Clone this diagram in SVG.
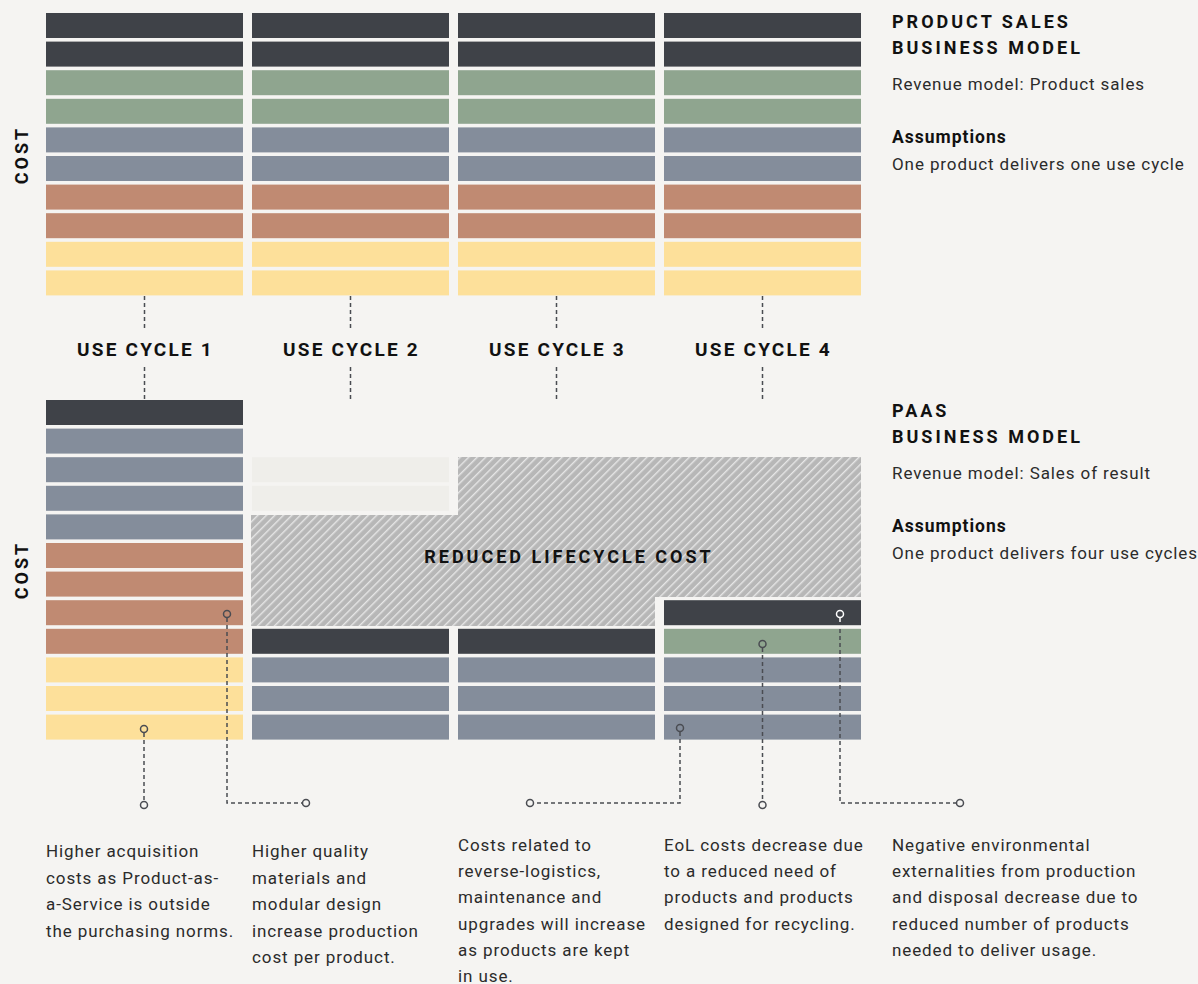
<svg xmlns="http://www.w3.org/2000/svg" width="1198" height="984" viewBox="0 0 1198 984">
<style>
.bg{fill:#f5f4f2}
.dk{fill:#3f4248}.gn{fill:#8fa58f}.gy{fill:#848d9b}.tc{fill:#c08a72}.yl{fill:#fde09a}.lt{fill:#efeeea}
.hd{font-family:Roboto,"Liberation Sans",sans-serif;font-weight:700;fill:#111;letter-spacing:3px}
.uc{letter-spacing:2.2px}
.bd{font-family:Roboto,"Liberation Sans",sans-serif;font-size:17px;fill:#2b2b2b;letter-spacing:0.9px}
.bb{font-family:Roboto,"Liberation Sans",sans-serif;font-size:17.5px;font-weight:700;fill:#111;letter-spacing:1px}
.ds{fill:none;stroke:#4a4c52;stroke-width:1.5;stroke-dasharray:4 3}
.dw{fill:none;stroke:#ffffff;stroke-width:1.5;stroke-dasharray:4 3}
.cd{fill:none;stroke:#4a4c52;stroke-width:1.5}
.cw{fill:none;stroke:#ffffff;stroke-width:1.5}
</style>
<defs>
<pattern id="hatch" width="6" height="6" patternUnits="userSpaceOnUse" patternTransform="rotate(45)">
<rect width="6" height="6" fill="#b7b7b7"/>
<rect x="0" y="0" width="1.4" height="6" fill="#e6e6e6"/>
</pattern>
<g id="topcol">
<rect x="0" y="13" width="197" height="25" class="dk"/>
<rect x="0" y="41.6" width="197" height="25" class="dk"/>
<rect x="0" y="70.2" width="197" height="25" class="gn"/>
<rect x="0" y="98.8" width="197" height="25" class="gn"/>
<rect x="0" y="127.4" width="197" height="25" class="gy"/>
<rect x="0" y="156" width="197" height="25" class="gy"/>
<rect x="0" y="184.6" width="197" height="25" class="tc"/>
<rect x="0" y="213.2" width="197" height="25" class="tc"/>
<rect x="0" y="241.8" width="197" height="25" class="yl"/>
<rect x="0" y="270.4" width="197" height="25" class="yl"/>
</g>
</defs>
<rect width="1198" height="984" class="bg"/>

<g id="product-sales-bars">
<use href="#topcol" x="46"/>
<use href="#topcol" x="252"/>
<use href="#topcol" x="458"/>
<use href="#topcol" x="664"/>
</g>

<g id="product-sales-label">
<text class="hd" x="892" y="28" font-size="18">PRODUCT SALES</text>
<text class="hd" x="892" y="54" font-size="18">BUSINESS MODEL</text>
<text class="bd" x="892" y="90">Revenue model: Product sales</text>
<text class="bb" x="892" y="143">Assumptions</text>
<text class="bd" x="892" y="170">One product delivers one use cycle</text>
</g>

<g id="cost-axis-top"><text class="hd" font-size="18" text-anchor="middle" transform="translate(28,155) rotate(-90)">COST</text></g>
<g id="cost-axis-bottom"><text class="hd" font-size="18" text-anchor="middle" transform="translate(28,570) rotate(-90)">COST</text></g>

<g id="use-cycles">
<text class="hd uc" font-size="19" text-anchor="middle" x="145.5" y="356">USE CYCLE 1</text>
<text class="hd uc" font-size="19" text-anchor="middle" x="351.5" y="356">USE CYCLE 2</text>
<text class="hd uc" font-size="19" text-anchor="middle" x="557.5" y="356">USE CYCLE 3</text>
<text class="hd uc" font-size="19" text-anchor="middle" x="763.5" y="356">USE CYCLE 4</text>
</g>

<g id="paas-col1">
<rect x="46" y="400" width="197" height="25" class="dk"/>
<rect x="46" y="428.6" width="197" height="25" class="gy"/>
<rect x="46" y="457.2" width="197" height="25" class="gy"/>
<rect x="46" y="485.8" width="197" height="25" class="gy"/>
<rect x="46" y="514.4" width="197" height="25" class="gy"/>
<rect x="46" y="543" width="197" height="25" class="tc"/>
<rect x="46" y="571.6" width="197" height="25" class="tc"/>
<rect x="46" y="600.2" width="197" height="25" class="tc"/>
<rect x="46" y="628.8" width="197" height="25" class="tc"/>
<rect x="46" y="657.4" width="197" height="25" class="yl"/>
<rect x="46" y="686" width="197" height="25" class="yl"/>
<rect x="46" y="714.6" width="197" height="25" class="yl"/>
</g>

<g id="paas-col2">
<rect x="252" y="457.2" width="197" height="25" class="lt"/>
<rect x="252" y="485.8" width="197" height="25" class="lt"/>
<rect x="252" y="628.8" width="197" height="25" class="dk"/>
<rect x="252" y="657.4" width="197" height="25" class="gy"/>
<rect x="252" y="686" width="197" height="25" class="gy"/>
<rect x="252" y="714.6" width="197" height="25" class="gy"/>
</g>

<g id="paas-col3">
<rect x="458" y="628.8" width="197" height="25" class="dk"/>
<rect x="458" y="657.4" width="197" height="25" class="gy"/>
<rect x="458" y="686" width="197" height="25" class="gy"/>
<rect x="458" y="714.6" width="197" height="25" class="gy"/>
</g>

<g id="paas-col4">
<rect x="664" y="600.2" width="197" height="25" class="dk"/>
<rect x="664" y="628.8" width="197" height="25" class="gn"/>
<rect x="664" y="657.4" width="197" height="25" class="gy"/>
<rect x="664" y="686" width="197" height="25" class="gy"/>
<rect x="664" y="714.6" width="197" height="25" class="gy"/>
</g>

<g id="reduced-lifecycle-cost">
<polygon points="458,457 861,457 861,597 655,597 655,626 251,626 251,515 458,515" fill="url(#hatch)"/>
<text class="hd" font-size="18" text-anchor="middle" x="569" y="563">REDUCED LIFECYCLE COST</text>
</g>

<g id="paas-label">
<text class="hd" x="892" y="417" font-size="18">PAAS</text>
<text class="hd" x="892" y="443" font-size="18">BUSINESS MODEL</text>
<text class="bd" x="892" y="479">Revenue model: Sales of result</text>
<text class="bb" x="892" y="532">Assumptions</text>
<text class="bd" x="892" y="559">One product delivers four use cycles</text>
</g>

<g id="connectors">
<line class="ds" x1="144.5" y1="296" x2="144.5" y2="330"/>
<line class="ds" x1="144.5" y1="367" x2="144.5" y2="400"/>
<line class="ds" x1="350.5" y1="296" x2="350.5" y2="330"/>
<line class="ds" x1="350.5" y1="367" x2="350.5" y2="400"/>
<line class="ds" x1="556.5" y1="296" x2="556.5" y2="330"/>
<line class="ds" x1="556.5" y1="367" x2="556.5" y2="400"/>
<line class="ds" x1="762.5" y1="296" x2="762.5" y2="330"/>
<line class="ds" x1="762.5" y1="367" x2="762.5" y2="400"/>

<circle class="cd" cx="144" cy="729" r="3.5"/>
<line class="ds" x1="144" y1="733" x2="144" y2="801"/>
<circle class="cd" cx="144" cy="805" r="3.5"/>

<circle class="cd" cx="227" cy="614" r="3.5"/>
<polyline class="ds" points="227,618 227,803 302,803"/>
<circle class="cd" cx="306" cy="803" r="3.5"/>

<circle class="cd" cx="680" cy="728" r="3.5"/>
<polyline class="ds" points="680,732 680,803 534,803"/>
<circle class="cd" cx="530" cy="803" r="3.5"/>

<circle class="cd" cx="762.5" cy="644" r="3.5"/>
<line class="ds" x1="762.5" y1="648" x2="762.5" y2="801"/>
<circle class="cd" cx="762.5" cy="805" r="3.5"/>

<circle class="cw" cx="840" cy="614" r="3.5"/>
<line class="dw" x1="840" y1="618" x2="840" y2="625"/>
<polyline class="ds" points="840,629 840,803 956,803"/>
<circle class="cd" cx="960" cy="803" r="3.5"/>
</g>

<g id="note-acquisition">
<text class="bd" x="46" y="857">Higher acquisition</text>
<text class="bd" x="46" y="883.6">costs as Product-as-</text>
<text class="bd" x="46" y="910.2">a-Service is outside</text>
<text class="bd" x="46" y="936.8">the purchasing norms.</text>
</g>
<g id="note-quality">
<text class="bd" x="252" y="857">Higher quality</text>
<text class="bd" x="252" y="883.6">materials and</text>
<text class="bd" x="252" y="910.2">modular design</text>
<text class="bd" x="252" y="936.8">increase production</text>
<text class="bd" x="252" y="963.4">cost per product.</text>
</g>
<g id="note-reverse-logistics">
<text class="bd" x="458" y="851">Costs related to</text>
<text class="bd" x="458" y="877.2">reverse-logistics,</text>
<text class="bd" x="458" y="903.4">maintenance and</text>
<text class="bd" x="458" y="929.6">upgrades will increase</text>
<text class="bd" x="458" y="955.8">as products are kept</text>
<text class="bd" x="458" y="982">in use.</text>
</g>
<g id="note-eol">
<text class="bd" x="664" y="851">EoL costs decrease due</text>
<text class="bd" x="664" y="877.2">to a reduced need of</text>
<text class="bd" x="664" y="903.4">products and products</text>
<text class="bd" x="664" y="929.6">designed for recycling.</text>
</g>
<g id="note-externalities">
<text class="bd" x="892" y="851">Negative environmental</text>
<text class="bd" x="892" y="877.2">externalities from production</text>
<text class="bd" x="892" y="903.4">and disposal decrease due to</text>
<text class="bd" x="892" y="929.6">reduced number of products</text>
<text class="bd" x="892" y="955.8">needed to deliver usage.</text>
</g>
</svg>
